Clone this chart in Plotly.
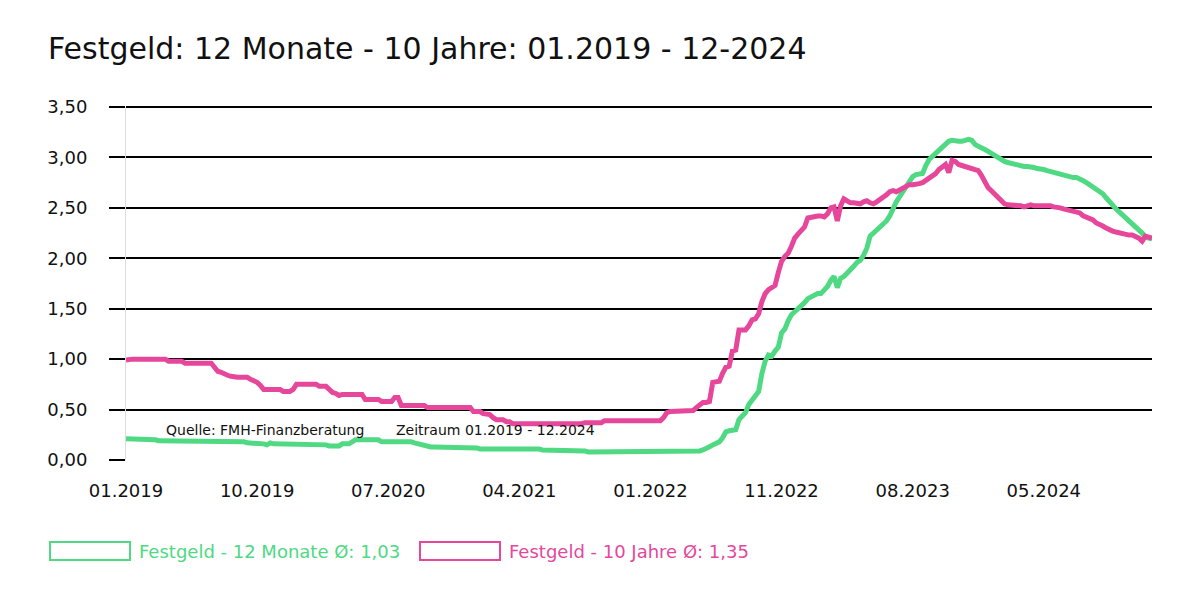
import plotly.graph_objects as go
import pandas as pd

# ---- data (weekly values) ----
festgeld_12m = [
    0.21,0.21,0.21,0.21,0.21,0.20,0.20,0.20,0.20,0.20,0.19,0.19,0.18,0.18,0.18,0.18,0.18,0.18,0.18,0.18,
    0.18,0.18,0.18,0.18,0.18,0.18,0.18,0.18,0.18,0.18,0.18,0.18,0.18,0.18,0.18,0.18,0.18,0.17,0.17,0.17,
    0.17,0.17,0.16,0.15,0.17,0.16,0.16,0.16,0.16,0.16,0.16,0.16,0.16,0.16,0.15,0.15,0.15,0.15,0.15,0.15,
    0.15,0.15,0.14,0.14,0.13,0.14,0.16,0.16,0.16,0.18,0.20,0.20,0.20,0.20,0.20,0.20,0.20,0.20,0.18,0.18,
    0.18,0.18,0.19,0.18,0.18,0.18,0.18,0.18,0.17,0.16,0.15,0.15,0.14,0.13,0.13,0.13,0.13,0.13,0.13,0.12,
    0.12,0.12,0.12,0.12,0.12,0.12,0.12,0.12,0.11,0.11,0.11,0.11,0.11,0.11,0.11,0.12,0.12,0.11,0.11,0.11,
    0.11,0.11,0.11,0.11,0.11,0.11,0.11,0.10,0.10,0.10,0.10,0.10,0.10,0.10,0.10,0.10,0.10,0.10,0.09,0.09,
    0.09,0.08,0.08,0.08,0.08,0.08,0.08,0.08,0.08,0.08,0.08,0.08,0.08,0.08,0.08,0.08,0.08,0.08,0.08,0.08,
    0.08,0.08,0.08,0.08,0.08,0.08,0.09,0.09,0.08,0.08,0.09,0.09,0.09,0.08,0.09,0.09,0.10,0.11,0.13,0.15,
    0.16,0.18,0.22,0.28,0.29,0.30,0.30,0.40,0.43,0.47,0.55,0.60,0.63,0.68,0.86,0.98,1.04,1.03,1.08,1.12,
    1.26,1.30,1.38,1.44,1.47,1.50,1.52,1.56,1.60,1.62,1.64,1.65,1.65,1.68,1.72,1.78,1.82,1.71,1.80,1.82,
    1.85,1.88,1.92,1.96,1.98,2.03,2.10,2.22,2.25,2.27,2.30,2.33,2.37,2.42,2.50,2.56,2.61,2.66,2.70,2.76,
    2.81,2.83,2.83,2.84,2.92,2.98,3.01,3.04,3.07,3.10,3.14,3.16,3.17,3.16,3.16,3.16,3.17,3.18,3.17,3.13,
    3.11,3.10,3.08,3.06,3.04,3.02,2.99,2.97,2.96,2.95,2.94,2.93,2.92,2.91,2.91,2.91,2.91,2.90,2.89,2.89,
    2.88,2.87,2.86,2.85,2.84,2.83,2.82,2.82,2.81,2.80,2.80,2.79,2.77,2.75,2.73,2.71,2.68,2.66,2.64,2.60,
    2.56,2.53,2.49,2.46,2.43,2.40,2.38,2.35,2.32,2.29,2.25,2.21,2.20,2.19,
]

festgeld_10j = [
    0.99,1.00,1.00,1.00,1.00,1.00,1.00,1.00,1.00,1.00,1.00,1.00,1.00,0.98,0.98,0.98,0.98,0.98,0.96,0.96,
    0.96,0.96,0.96,0.96,0.96,0.96,0.96,0.92,0.88,0.87,0.85,0.84,0.83,0.82,0.82,0.82,0.82,0.82,0.80,0.79,
    0.77,0.74,0.70,0.70,0.70,0.70,0.70,0.70,0.68,0.68,0.68,0.70,0.75,0.75,0.75,0.75,0.75,0.75,0.75,0.73,
    0.73,0.73,0.70,0.67,0.66,0.64,0.65,0.65,0.65,0.65,0.65,0.65,0.65,0.60,0.60,0.60,0.60,0.60,0.58,0.58,
    0.58,0.58,0.62,0.62,0.54,0.54,0.54,0.54,0.54,0.54,0.54,0.54,0.52,0.52,0.52,0.52,0.52,0.52,0.52,0.52,
    0.52,0.52,0.52,0.52,0.52,0.52,0.48,0.48,0.48,0.46,0.46,0.45,0.42,0.40,0.40,0.40,0.38,0.38,0.36,0.36,
    0.36,0.36,0.36,0.36,0.36,0.36,0.36,0.36,0.36,0.35,0.35,0.35,0.35,0.35,0.35,0.35,0.35,0.35,0.35,0.36,
    0.37,0.37,0.37,0.37,0.37,0.37,0.39,0.39,0.39,0.39,0.39,0.39,0.39,0.39,0.39,0.39,0.39,0.39,0.39,0.39,
    0.39,0.39,0.39,0.39,0.42,0.47,0.48,0.48,0.48,0.48,0.48,0.48,0.48,0.49,0.52,0.55,0.57,0.57,0.58,0.77,
    0.77,0.78,0.86,0.92,0.93,1.08,1.09,1.29,1.29,1.29,1.33,1.39,1.40,1.45,1.57,1.65,1.69,1.71,1.73,1.86,
    1.97,2.02,2.05,2.12,2.20,2.24,2.28,2.31,2.40,2.41,2.41,2.42,2.42,2.41,2.44,2.50,2.51,2.37,2.52,2.59,
    2.57,2.55,2.55,2.54,2.54,2.56,2.57,2.55,2.54,2.56,2.58,2.60,2.63,2.66,2.67,2.66,2.68,2.70,2.71,2.73,
    2.73,2.73,2.74,2.75,2.77,2.80,2.81,2.84,2.88,2.90,2.93,2.85,2.97,2.96,2.93,2.92,2.91,2.90,2.89,2.88,
    2.87,2.82,2.76,2.70,2.67,2.64,2.61,2.57,2.54,2.53,2.53,2.53,2.52,2.52,2.51,2.52,2.53,2.52,2.52,2.53,
    2.53,2.52,2.52,2.51,2.51,2.50,2.49,2.48,2.48,2.47,2.46,2.45,2.42,2.41,2.40,2.38,2.35,2.34,2.32,2.30,
    2.28,2.27,2.26,2.25,2.24,2.24,2.23,2.23,2.22,2.20,2.17,2.22,2.21,2.20,
]

tick_labels = ["01.2019", "10.2019", "07.2020", "04.2021", "01.2022", "11.2022", "08.2023", "05.2024"]
series_names = ["Festgeld - 12 Monate Ø: 1,03", "Festgeld - 10 Jahre Ø: 1,35"]
source_text = "Quelle: FMH-Finanzberatung"
period_text = "Zeitraum 01.2019 - 12.2024"
title_text = "Festgeld: 12 Monate - 10 Jahre: 01.2019 - 12-2024"

GREEN = "#4ed982"
PINK = "#e6479a"
FONT = "DejaVu Sans"
Y_MAX = 3.5

n = max(len(festgeld_12m), len(festgeld_10j))
dates = pd.date_range("2019-01-04", periods=n, freq="7D")
tick_vals = [dates[i] for i in range(0, n, 40)][:len(tick_labels)]

fig = go.Figure()
fig.add_trace(go.Scatter(x=dates[:len(festgeld_12m)], y=festgeld_12m, mode="lines",
                         line=dict(color=GREEN, width=5), name=series_names[0],
                         showlegend=False))
fig.add_trace(go.Scatter(x=dates[:len(festgeld_10j)], y=festgeld_10j, mode="lines",
                         line=dict(color=PINK, width=5), name=series_names[1],
                         showlegend=False))

# the page body adds an 8px offset; figure is sized/positioned to compensate
OFF = 8
W, H = 1184, 584
L, T = 126 - OFF, 107 - OFF
R = W - (1152 - OFF)
B = H - (460 - OFF)
pw, ph = W - L - R, H - T - B

def px_x(px):
    return (px - OFF - L) / pw

def px_y(py):
    return (H - B - (py - OFF)) / ph

shapes = [
    # top gridline (plotly drops the gridline at the range edge)
    dict(type="line", xref="paper", yref="paper", x0=0, x1=1, y0=1, y1=1,
         line=dict(color="#000000", width=2), layer="below"),
]
annotations = []
for (bx, tx, col, txt) in [(50, 137, GREEN, series_names[0]), (420, 507, PINK, series_names[1])]:
    shapes.append(dict(type="rect", xref="paper", yref="paper",
                       x0=px_x(bx), x1=px_x(bx + 80), y0=px_y(560), y1=px_y(542),
                       line=dict(color=col, width=2), fillcolor="rgba(0,0,0,0)"))
    annotations.append(dict(xref="paper", yref="paper", x=px_x(tx), y=px_y(551),
                            xanchor="left", yanchor="middle", showarrow=False,
                            text=txt, font=dict(family=FONT, size=18, color=col)))

annotations.append(dict(xref="paper", yref="paper", x=px_x(164), y=px_y(430),
                        xanchor="left", yanchor="middle", showarrow=False,
                        text=source_text, font=dict(family=FONT, size=14, color="#111")))
annotations.append(dict(xref="paper", yref="paper", x=px_x(394), y=px_y(430),
                        xanchor="left", yanchor="middle", showarrow=False,
                        text=period_text, font=dict(family=FONT, size=14, color="#111")))

fig.update_layout(
    width=W, height=H,
    margin=dict(l=L, r=R, t=T, b=B, pad=0),
    paper_bgcolor="white", plot_bgcolor="white",
    separators=",.",
    font=dict(family=FONT, size=18, color="#111"),
    title=dict(text=title_text, x=(48 - OFF) / W, xref="container", xanchor="left",
               y=1 - (48 - OFF) / H, yref="container", yanchor="middle",
               font=dict(family=FONT, size=30, color="#111")),
    shapes=shapes,
    annotations=annotations,
    showlegend=False,
)

fig.update_xaxes(
    range=[dates[0], dates[n - 1]],
    tickvals=tick_vals, ticktext=tick_labels,
    showgrid=False, zeroline=False, showline=False,
    ticks="", ticklabelstandoff=18,
    tickfont=dict(family=FONT, size=18, color="#111"),
)
fig.update_yaxes(
    range=[0, Y_MAX], dtick=0.5, tick0=0, tickformat=".2f",
    showgrid=True, gridcolor="#000000", gridwidth=2,
    zeroline=False, showline=True, linecolor="#dddddd", linewidth=1,
    ticks="outside", ticklen=16, tickcolor="#000000", tickwidth=2,
    ticklabelstandoff=18,
    tickfont=dict(family=FONT, size=18, color="#111"),
)

fig.write_html("out.html")
